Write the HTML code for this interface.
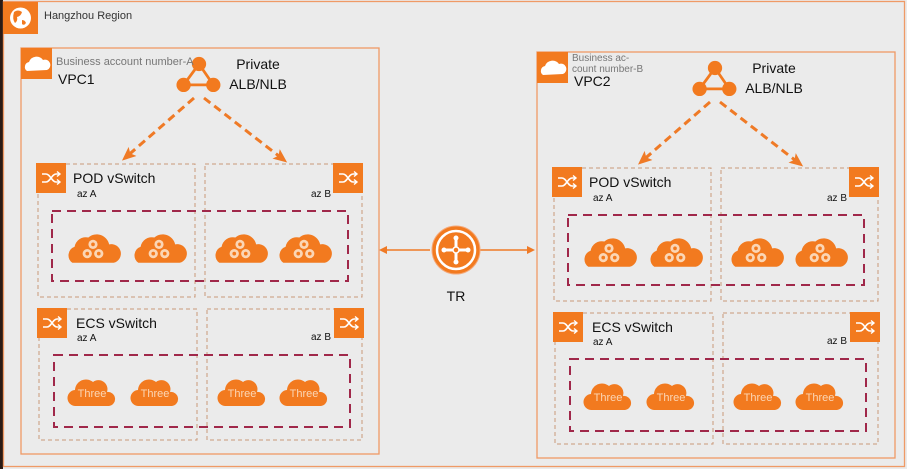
<!DOCTYPE html>
<html><head><meta charset="utf-8"><style>
html,body{margin:0;padding:0;background:#ebebeb;}
svg{display:block;font-family:"Liberation Sans",Arial,sans-serif;}
</style></head><body>
<svg width="907" height="469" viewBox="0 0 907 469" xmlns="http://www.w3.org/2000/svg">
<defs>
<marker id="ah" markerWidth="8" markerHeight="8" refX="6" refY="4" orient="auto" markerUnits="userSpaceOnUse">
<path d="M0,0 L8,4 L0,8 z" fill="#ef7a26"/></marker>
<marker id="ab" markerWidth="14" markerHeight="12" refX="10" refY="6" orient="auto" markerUnits="userSpaceOnUse">
<path d="M0,0 L14,6 L0,12 L3,6 z" fill="#ef7a26"/></marker>
<g id="sw">
<rect x="0" y="0" width="30" height="30" fill="#f27a1f"/>
<path d="M6,11 h4 c4,0 6,8 10,8 h3 M6,19 h4 c4,0 6,-8 10,-8 h3" stroke="#fff" stroke-width="1.6" fill="none"/>
<path d="M21,8.5 L24,11 L21,13.5 M21,16.5 L24,19 L21,21.5" stroke="#fff" stroke-width="1.4" fill="none"/>
</g>
<g id="pod">
<g transform="scale(1.15)">
<path d="M-18,12 a8,8 0 0 1 2,-14 a10,10 0 0 1 12,-8 a11,11 0 0 1 18,6 a8,8 0 0 1 4,16 z" fill="#f27a1f"/>
<circle cx="0" cy="-4" r="4" fill="#fbd6b5"/><circle cx="-5" cy="4" r="4" fill="#fbd6b5"/><circle cx="5" cy="4" r="4" fill="#fbd6b5"/>
<circle cx="0" cy="-4" r="1.6" fill="#f27a1f"/><circle cx="-5" cy="4" r="1.6" fill="#f27a1f"/><circle cx="5" cy="4" r="1.6" fill="#f27a1f"/>
</g>
</g>
<g id="ecs">
<path d="M-16,13 a8,8 0 0 1 -1,-16 a11,11 0 0 1 18,-8 a9,9 0 0 1 14,10 a7,7 0 0 1 2,14 z" fill="#f27a1f"/>
</g>
<g id="lb">
<g transform="scale(1.1)">
<path d="M0,0 L-14,19 L13,19 z" fill="none" stroke="#f27a1f" stroke-width="2.5"/>
<circle cx="0" cy="0" r="6.5" fill="#f27a1f"/><circle cx="-14" cy="19" r="6.5" fill="#f27a1f"/><circle cx="13" cy="19" r="6.5" fill="#f27a1f"/>
</g>
</g>
<g id="vpc">
<rect x="21" y="48" width="358" height="406" fill="none" stroke="#ef9a66" stroke-width="1.3"/>
<rect x="21" y="48" width="31" height="31" fill="#f27a1f"/>
<path d="M27,71 a5,5 0 0 1 2,-9 a8,8 0 0 1 14,-2 a5,5 0 0 1 4,10 z" fill="#fff"/>
<use href="#lb" x="199" y="64"/>
<line x1="194" y1="98" x2="125" y2="158" stroke="#ef7a26" stroke-width="3" stroke-dasharray="8,5" marker-end="url(#ab)"/>
<line x1="204" y1="98" x2="284" y2="160" stroke="#ef7a26" stroke-width="3" stroke-dasharray="8,5" marker-end="url(#ab)"/>
<text x="258" y="69" font-size="14" text-anchor="middle" fill="#111">Private</text>
<text x="258" y="89" font-size="14" text-anchor="middle" fill="#111">ALB/NLB</text>
<rect x="38" y="164" width="157" height="133" fill="none" stroke="#c9987a" stroke-dasharray="4,3"/>
<rect x="205" y="164" width="157" height="133" fill="none" stroke="#c9987a" stroke-dasharray="4,3"/>
<use href="#sw" x="36" y="163"/><use href="#sw" x="333" y="163"/>
<text x="73" y="183" font-size="14" fill="#111">POD vSwitch</text>
<text x="77" y="197" font-size="10" fill="#111">az A</text>
<text x="311" y="197" font-size="10" fill="#111">az B</text>
<rect x="52" y="211" width="296" height="70" fill="none" stroke="#a0284a" stroke-width="2" stroke-dasharray="9,6"/>
<use href="#pod" x="93" y="249"/><use href="#pod" x="159" y="249"/><use href="#pod" x="240" y="249"/><use href="#pod" x="304" y="249"/>
<rect x="39" y="309" width="158" height="131" fill="none" stroke="#c9987a" stroke-dasharray="4,3"/>
<rect x="207" y="309" width="155" height="131" fill="none" stroke="#c9987a" stroke-dasharray="4,3"/>
<use href="#sw" x="37" y="308"/><use href="#sw" x="334" y="308"/>
<text x="76" y="328" font-size="14" fill="#111">ECS vSwitch</text>
<text x="77" y="341" font-size="10" fill="#111">az A</text>
<text x="311" y="340" font-size="10" fill="#111">az B</text>
<rect x="54" y="355" width="296" height="72" fill="none" stroke="#a0284a" stroke-width="2" stroke-dasharray="9,6"/>
<use href="#ecs" x="92" y="393"/><use href="#ecs" x="155" y="393"/><use href="#ecs" x="242" y="393"/><use href="#ecs" x="304" y="393"/>
<g font-size="11" fill="#fbd6b5" text-anchor="middle">
<text x="92" y="397">Three</text><text x="155" y="397">Three</text><text x="242" y="397">Three</text><text x="304" y="397">Three</text></g>
</g>
</defs>
<rect x="0" y="0" width="907" height="469" fill="#ebebeb"/>
<rect x="0" y="0" width="3" height="469" fill="#2a1a14"/>
<rect x="3.5" y="1.5" width="901" height="465" fill="none" stroke="#ef9a66" stroke-width="1.3"/>
<rect x="3" y="2" width="35" height="32" fill="#f27a1f"/>
<circle cx="20.5" cy="18" r="10.5" fill="#fff"/>
<path d="M14,12 q4,-3 8,0 q-1,4 -5,5 q1,4 -2,6 q-3,-4 -1,-11 z M22,20 q3,0 4,3 q-2,3 -4,1 z" fill="#f27a1f"/>
<text x="44" y="19" font-size="11" fill="#333">Hangzhou Region</text>
<use href="#vpc"/>
<text x="56" y="65" font-size="11" fill="#777">Business account number-A</text>
<text x="58" y="84" font-size="14" fill="#111">VPC1</text>
<g transform="translate(516,4)"><use href="#vpc"/></g>
<text x="572" y="61" font-size="10" fill="#777">Business ac-</text>
<text x="572" y="72" font-size="10" fill="#777">count number-B</text>
<text x="574" y="86" font-size="14" fill="#111">VPC2</text>
<line x1="430" y1="250" x2="381" y2="250" stroke="#ef7a26" stroke-width="1.5" marker-end="url(#ah)"/>
<line x1="477" y1="250" x2="533" y2="250" stroke="#ef7a26" stroke-width="1.5" marker-end="url(#ah)"/>
<circle cx="456" cy="250" r="24" fill="#f27a1f" stroke="#f5a878" stroke-width="1"/>
<circle cx="456" cy="250" r="19" fill="none" stroke="#fff" stroke-width="2.5"/>
<path d="M456,236 v28 M442,250 h28" stroke="#fff" stroke-width="3"/>
<circle cx="456" cy="250" r="3" fill="#f27a1f" stroke="#fff" stroke-width="1.5"/>
<circle cx="456" cy="238" r="2.5" fill="#fff"/><circle cx="456" cy="262" r="2.5" fill="#fff"/><circle cx="444" cy="250" r="2.5" fill="#fff"/><circle cx="468" cy="250" r="2.5" fill="#fff"/>
<text x="456" y="301" font-size="14" text-anchor="middle" fill="#111">TR</text>
</svg>
</body></html>
